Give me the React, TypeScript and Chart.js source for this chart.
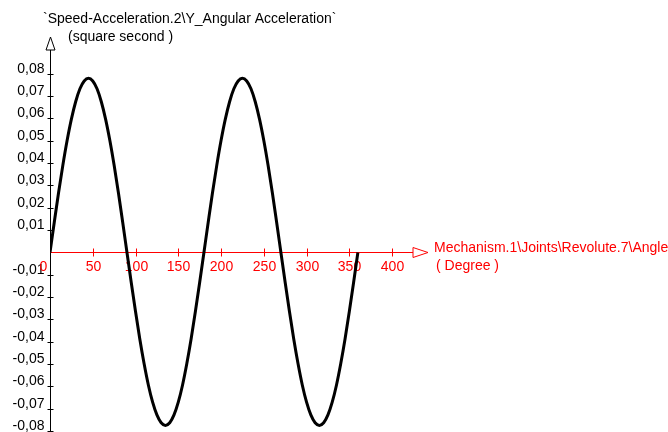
import React, { useEffect, useRef } from "react";
import { Chart, registerables } from "chart.js";

Chart.register(...registerables);

// Angle of Revolute.7 (degree)
const angles = [
  0, 5, 10, 15, 20, 25, 30, 35, 40, 45, 50, 55, 60, 65, 70, 75, 80, 85, 90,
  95, 100, 105, 110, 115, 120, 125, 130, 135, 140, 145, 150, 155, 160, 165, 170, 175, 180,
  185, 190, 195, 200, 205, 210, 215, 220, 225, 230, 235, 240, 245, 250, 255, 260, 265, 270,
  275, 280, 285, 290, 295, 300, 305, 310, 315, 320, 325, 330, 335, 340, 345, 350, 355, 360,
];

// Y angular acceleration (square second)
const accel = [
  0, 0.0135, 0.0267, 0.039, 0.0501, 0.0597, 0.0675, 0.0733, 0.0768, 0.078,
  0.0768, 0.0733, 0.0675, 0.0597, 0.0501, 0.039, 0.0267, 0.0135, 0,
  -0.0135, -0.0265, -0.0388, -0.0498, -0.0594, -0.0671, -0.0728, -0.0763, -0.0775,
  -0.0763, -0.0728, -0.0671, -0.0594, -0.0498, -0.0388, -0.0265, -0.0135, 0,
  0.0135, 0.0267, 0.039, 0.0501, 0.0597, 0.0675, 0.0733, 0.0768, 0.078,
  0.0768, 0.0733, 0.0675, 0.0597, 0.0501, 0.039, 0.0267, 0.0135, 0,
  -0.0135, -0.0265, -0.0388, -0.0498, -0.0594, -0.0671, -0.0728, -0.0763, -0.0775,
  -0.0763, -0.0728, -0.0671, -0.0594, -0.0498, -0.0388, -0.0265, -0.0135, 0,
];

const xTicks = [0, 50, 100, 150, 200, 250, 300, 350, 400];
const yTicks = [0.08, 0.07, 0.06, 0.05, 0.04, 0.03, 0.02, 0.01, -0.01, -0.02, -0.03, -0.04, -0.05, -0.06, -0.07, -0.08];
const yTickLabels = ["0,08", "0,07", "0,06", "0,05", "0,04", "0,03", "0,02", "0,01", "-0,01", "-0,02", "-0,03", "-0,04", "-0,05", "-0,06", "-0,07", "-0,08"];

const yTitle = "`Speed-Acceleration.2\\Y_Angular Acceleration`";
const yUnit = "(square second )";
const xTitle = "Mechanism.1\\Joints\\Revolute.7\\Angle";
const xUnit = "( Degree )";

const FONT = '14px "Liberation Sans", Arial, sans-serif';
const RED = "#ff0000";

const axesPlugin = {
  id: "catiaAxes",
  beforeDatasetsDraw(chart: any) {
    const { ctx } = chart;
    const xs = chart.scales.x;
    const ys = chart.scales.y;
    const x0 = Math.round(xs.getPixelForValue(0)) + 0.5;
    const y0 = Math.round(ys.getPixelForValue(0)) + 0.5;
    const xEnd = xs.right;
    const yTop = ys.top;
    ctx.save();
    ctx.lineWidth = 1;

    // Y axis (black) with hollow arrow
    ctx.strokeStyle = "#000";
    ctx.beginPath();
    ctx.moveTo(x0, ys.bottom + 1);
    ctx.lineTo(x0, yTop + 13);
    ctx.stroke();
    ctx.beginPath();
    ctx.moveTo(x0, yTop);
    ctx.lineTo(x0 + 4.5, yTop + 13);
    ctx.lineTo(x0 - 4.5, yTop + 13);
    ctx.closePath();
    ctx.stroke();

    // Y ticks and labels
    ctx.font = FONT;
    ctx.fillStyle = "#000";
    ctx.textAlign = "right";
    ctx.textBaseline = "alphabetic";
    yTicks.forEach((v, i) => {
      const py = Math.round(ys.getPixelForValue(v)) + 0.5;
      ctx.beginPath();
      ctx.moveTo(x0 - 3, py);
      ctx.lineTo(x0 + 3, py);
      ctx.stroke();
      ctx.fillText(yTickLabels[i], x0 - 6, py - 2);
    });

    // Y title
    ctx.textAlign = "left";
    ctx.fillText(yTitle, 43, 23);
    ctx.fillText(yUnit, 68, 41);

    // X axis (red) with hollow arrow
    ctx.strokeStyle = RED;
    ctx.fillStyle = RED;
    ctx.beginPath();
    ctx.moveTo(x0, y0);
    ctx.lineTo(xEnd - 15, y0);
    ctx.stroke();
    ctx.beginPath();
    ctx.moveTo(xEnd, y0);
    ctx.lineTo(xEnd - 15, y0 - 5);
    ctx.lineTo(xEnd - 15, y0 + 5);
    ctx.closePath();
    ctx.stroke();

    ctx.textAlign = "center";
    xTicks.forEach((v) => {
      const px = Math.round(xs.getPixelForValue(v)) + 0.5;
      if (v !== 0) {
        ctx.beginPath();
        ctx.moveTo(px, y0 - 4);
        ctx.lineTo(px, y0 + 4);
        ctx.stroke();
        ctx.fillText(String(v), px, y0 + 18);
      } else {
        ctx.fillText(String(v), px - 7, y0 + 18);
      }
    });

    // X title
    ctx.textAlign = "left";
    ctx.fillText(xTitle, xEnd + 6, y0 - 1);
    ctx.fillText(xUnit, xEnd + 8, y0 + 17);
    ctx.restore();
  },
};

export default function App() {
  const ref = useRef<HTMLCanvasElement | null>(null);
  useEffect(() => {
    if (!ref.current) return;
    const chart = new Chart(ref.current, {
      type: "line",
      data: {
        datasets: [
          {
            data: angles.map((a, i) => ({ x: a, y: accel[i] })),
            borderColor: "#000",
            borderWidth: 3,
            pointRadius: 0,
            cubicInterpolationMode: "monotone",
            fill: false,
          },
        ],
      },
      options: {
        responsive: false,
        animation: false,
        devicePixelRatio: 1,
        layout: { padding: { left: 50, right: 240, top: 37, bottom: 1 } },
        plugins: { legend: { display: false }, tooltip: { enabled: false } },
        scales: {
          x: { type: "linear", min: 0, max: 442, display: false },
          y: { type: "linear", min: -0.08, max: 0.0965, display: false },
        },
      },
      plugins: [axesPlugin],
    } as any);
    return () => chart.destroy();
  }, []);
  return (
    <div style={{ position: "fixed", left: 0, top: 0, width: 668, height: 432, background: "#fff" }}>
      <canvas ref={ref} width={668} height={432} style={{ display: "block", width: 668, height: 432 }} />
    </div>
  );
}
